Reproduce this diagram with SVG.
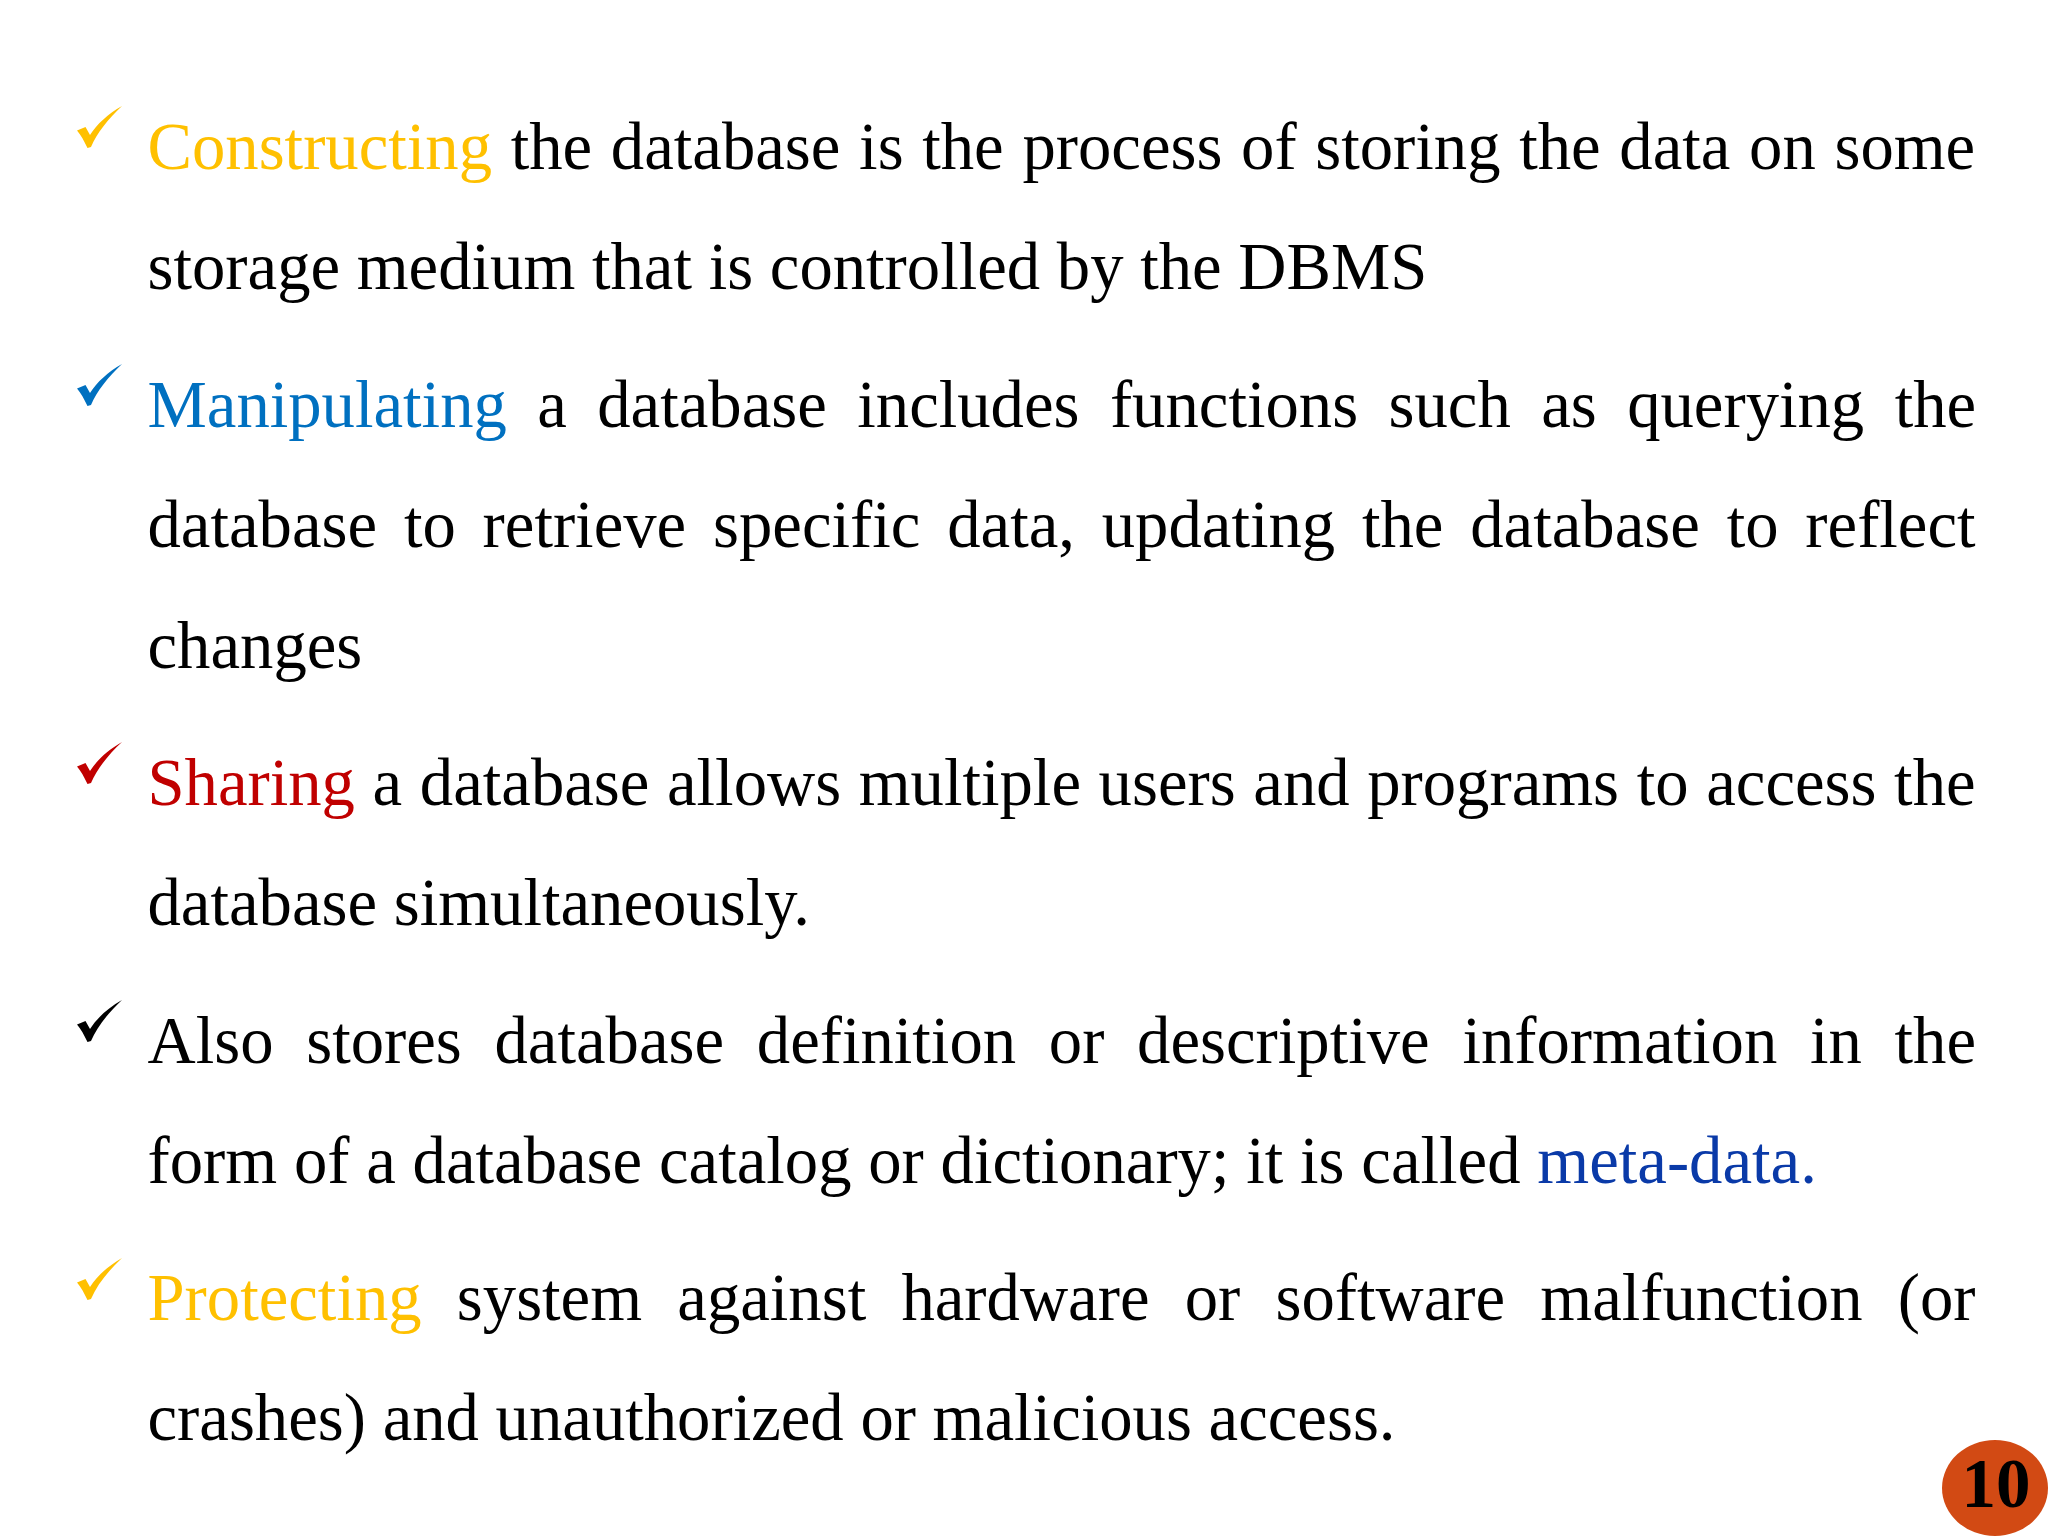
<svg xmlns="http://www.w3.org/2000/svg" width="2048" height="1536" viewBox="0 0 2048 1536">
<style>
text{font-family:"Liberation Serif","Times New Roman",serif;font-size:66.7px;fill:#000;white-space:pre}
.y{fill:#FFC000}.b{fill:#0070C0}.r{fill:#C00000}.n{fill:#0A3AA8}
.pn{font-weight:bold;font-size:69px;text-anchor:middle}
</style>
<defs>
<path id="chk" d="M122 106C108 114 97 124 90 135L85.5 127L77 130.5C81 135 84 141 87.5 148L91 147C97 133 108 119 122 106Z"/>
</defs>
<rect width="2048" height="1536" fill="#fff"/>
<g id="checks">
<use href="#chk" fill="#FFC000"/>
<use href="#chk" y="258" fill="#0070C0"/>
<use href="#chk" y="636" fill="#C00000"/>
<use href="#chk" y="894" fill="#000"/>
<use href="#chk" y="1152" fill="#FFC000"/>
</g>
<g id="body">
<text x="147.5" y="168.5" word-spacing="2"><tspan class="y">Constructing</tspan> the database is the process of storing the data on some</text>
<text x="147.5" y="289">storage medium that is controlled by the DBMS</text>
<text x="147.5" y="426.5" word-spacing="13.75"><tspan class="b">Manipulating</tspan> a database includes functions such as querying the</text>
<text x="147.5" y="546.7" word-spacing="10.15">database to retrieve specific data, updating the database to reflect</text>
<text x="147.5" y="667.5">changes</text>
<text x="147.5" y="804.5" word-spacing="0.95"><tspan class="r">Sharing</tspan> a database allows multiple users and programs to access the</text>
<text x="147.5" y="925">database simultaneously.</text>
<text x="147.5" y="1062.5" word-spacing="16.05">Also stores database definition or descriptive information in the</text>
<text x="147.5" y="1183" word-spacing="0.1">form of a database catalog or dictionary; it is called <tspan class="n">meta-data.</tspan></text>
<text x="147.5" y="1319.5" word-spacing="18.55"><tspan class="y">Protecting</tspan> system against hardware or software malfunction (or</text>
<text x="147.5" y="1440">crashes) and unauthorized or malicious access.</text>
</g>
<g id="page-number">
<ellipse cx="1995" cy="1488" rx="53" ry="48" fill="#D24A14"/>
<text class="pn" x="1996" y="1507">10</text>
</g>
</svg>
